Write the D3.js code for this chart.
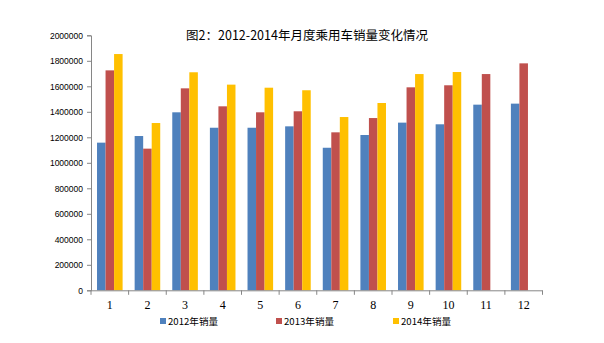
<!DOCTYPE html>
<html>
<head>
<meta charset="utf-8">
<script src="https://cdn.jsdelivr.net/npm/d3@7/dist/d3.min.js"></script>
<style>
  html, body { margin: 0; padding: 0; background: #fff; }
  svg { display: block; }
</style>
</head>
<body>
<svg id="chart" width="604" height="343"></svg>
<script>
// Monthly passenger-car sales, 2012–2014
const months = ["1", "2", "3", "4", "5", "6", "7", "8", "9", "10", "11", "12"];
const seriesNames = ["2012年销量", "2013年销量", "2014年销量"];
const sales2012 = [1158000, 1210000, 1396000, 1275000, 1275000, 1286000, 1118000, 1218000, 1315000, 1302000, 1456000, 1464000];
const sales2013 = [1725000, 1111000, 1584000, 1443000, 1396000, 1404000, 1239000, 1351000, 1592000, 1608000, 1696000, 1780000];
const sales2014 = [1853000, 1312000, 1710000, 1613000, 1589000, 1569000, 1359000, 1469000, 1696000, 1712000, null, null];
const yTicks = [0, 200000, 400000, 600000, 800000, 1000000, 1200000, 1400000, 1600000, 1800000, 2000000];
const colors = ["#4F81BD", "#C0504D", "#FFC000"];

(function () {
  const svg = d3.select("#chart");
  const plotLeft = 91, plotRight = 542.5, plotTop = 35.3, plotBottom = 290.3;

  const x = d3.scaleBand().domain(months).range([plotLeft, plotRight]).paddingInner(0.32).paddingOuter(0.16);
  const xs = d3.scaleBand().domain(seriesNames).range([0, x.bandwidth()]);
  const y = d3.scaleLinear().domain([0, 2000000]).range([plotBottom, plotTop]);

  // Title
  svg.append("text")
    .attr("x", 307).attr("y", 39.5)
    .attr("text-anchor", "middle")
    .attr("font-family", "'Noto Sans CJK SC', sans-serif")
    .attr("font-size", 12.5)
    .attr("fill", "#000")
    .text("图2：2012-2014年月度乘用车销量变化情况");

  // Bars
  const data = [sales2012, sales2013, sales2014];
  months.forEach((m, i) => {
    seriesNames.forEach((s, j) => {
      const v = data[j][i];
      if (v == null) return;
      svg.append("rect")
        .attr("x", x(m) + xs(s))
        .attr("y", y(v))
        .attr("width", xs.bandwidth())
        .attr("height", y(0) - y(v))
        .attr("fill", colors[j]);
    });
  });

  // Y axis
  const yAxis = d3.axisLeft(y).tickValues(yTicks).tickSize(4).tickFormat(d3.format("d"));
  const gy = svg.append("g").attr("transform", `translate(${plotLeft},0)`).call(yAxis);
  gy.select(".domain").attr("stroke", "#868686");
  gy.selectAll(".tick line").attr("stroke", "#868686");
  gy.selectAll(".tick text")
    .attr("x", -8)
    .attr("font-family", "'Liberation Sans', Arial, sans-serif")
    .attr("font-size", 8.5)
    .attr("fill", "#000");

  // X axis: baseline with ticks at the category boundaries
  const gx = svg.append("g");
  gx.append("line")
    .attr("x1", plotLeft).attr("x2", plotRight)
    .attr("y1", plotBottom + 0.5).attr("y2", plotBottom + 0.5)
    .attr("stroke", "#868686");
  d3.range(months.length + 1).forEach(k => {
    const tx = plotLeft + k * x.step();
    gx.append("line")
      .attr("x1", tx).attr("x2", tx)
      .attr("y1", plotBottom).attr("y2", plotBottom + 4.5)
      .attr("stroke", "#868686");
  });
  gx.selectAll("text.month").data(months).enter().append("text")
    .attr("class", "month")
    .attr("x", d => x(d) + x.bandwidth() / 2)
    .attr("y", 309)
    .attr("text-anchor", "middle")
    .attr("font-family", "'Liberation Serif', 'Times New Roman', serif")
    .attr("font-size", 12)
    .attr("fill", "#000")
    .text(d => d);

  // Legend
  const legendX = [160, 276, 393];
  seriesNames.forEach((s, j) => {
    const g = svg.append("g").attr("transform", `translate(${legendX[j]},318)`);
    g.append("rect").attr("x", 0).attr("y", 0).attr("width", 6).attr("height", 6).attr("fill", colors[j]);
    g.append("text")
      .attr("x", 8).attr("y", 6.8)
      .attr("font-family", "'Noto Sans CJK SC', sans-serif")
      .attr("font-size", 9.6)
      .attr("fill", "#000")
      .text(s);
  });
})();
</script>
</body>
</html>
